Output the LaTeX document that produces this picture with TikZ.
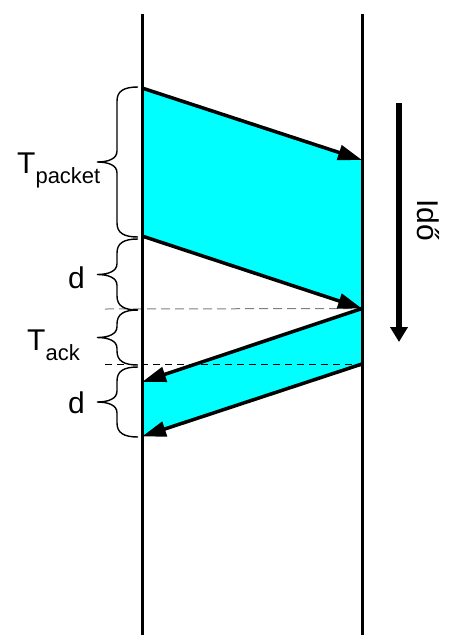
\documentclass[tikz,border=0pt]{standalone}
\usepackage{fontspec}
\setmainfont{Liberation Sans}
\usetikzlibrary{arrows.meta}
\definecolor{pktcyan}{HTML}{00FFFF}
\tikzset{
  lifeline/.style={line width=3pt},
  msg/.style={line width=3.5pt, -{Triangle[length=24pt,width=15pt]}},
  bracestyle/.style={line width=1.4pt},
  guide/.style={line width=1pt, dash pattern=on 9pt off 5pt},
  lbl/.style={inner sep=0pt, font=\fontsize{30}{36}\selectfont},
}
\newcommand{\sub}[1]{\raisebox{-10pt}{\fontsize{22}{26}\selectfont #1}}
% curly brace from y #1 (top) to y #2 (bottom), ends at x=138, tip at x=97
\newcommand{\mybrace}[2]{%
  \pgfmathsetmacro{\bym}{(#1+#2)/2}%
  \draw[bracestyle] (138,#1) .. controls (124,#1) and (117,#1+4) .. (117,#1+14)
    -- (117,\bym-11) .. controls (117,\bym-3) and (108,\bym) .. (97,\bym)
    .. controls (108,\bym) and (117,\bym+3) .. (117,\bym+11)
    -- (117,#2-14) .. controls (117,#2-4) and (124,#2) .. (138,#2);}
\begin{document}
\begin{tikzpicture}[x=1pt,y=-1pt]
\useasboundingbox (0,0) rectangle (448,635);
% coordinates
\coordinate (L0) at (142,14);
\coordinate (L1) at (142,635);
\coordinate (R0) at (362,14);
\coordinate (R1) at (362,635);
\coordinate (P1s) at (142,88);
\coordinate (P1e) at (362,160);
\coordinate (P2s) at (142,236);
\coordinate (P2e) at (362,308.5);
\coordinate (A1e) at (142,382);
\coordinate (A2s) at (362,364);
\coordinate (A2e) at (142,436.5);
\coordinate (D1a) at (105,309);
\coordinate (D2a) at (105,364);
\coordinate (T0) at (399,103);
\coordinate (T1) at (399,342);
% fills
\fill[pktcyan] (P1s) -- (P1e) -- (P2e) -- (P2s) -- cycle;
\fill[pktcyan] (P2e) -- (A1e) -- (A2e) -- (A2s) -- cycle;
% dashed guides
\draw[guide, gray] (D1a) -- (P2e);
\draw[guide, black, dash pattern=on 7pt off 5pt, line width=0.9pt] (D2a) -- (A2s);
% lifelines
\draw[lifeline] (L0) -- (L1);
\draw[lifeline] (R0) -- (R1);
% messages
\draw[msg] (P1s) -- (P1e);
\draw[msg] (P2s) -- (P2e);
\draw[msg] (P2e) -- (A1e);
\draw[msg] (A2s) -- (A2e);
% braces
\mybrace{87}{237}
\mybrace{239}{310}
\mybrace{310}{365}
\mybrace{367}{437}
% labels
\node[lbl, anchor=base west] (tpacket) at (17,173) {T\sub{packet}};
\node[lbl, anchor=base west] (d1) at (68,288) {d};
\node[lbl, anchor=base west] (tack) at (27,350) {T\sub{ack}};
\node[lbl, anchor=base west] (d2) at (68,413) {d};
% time arrow
\draw[line width=6pt, -{Triangle[length=15pt,width=17pt]}] (T0) -- (T1);
\node[lbl, rotate=-90, anchor=base] (ido) at (417,220) {Idő};
\end{tikzpicture}
\end{document}
